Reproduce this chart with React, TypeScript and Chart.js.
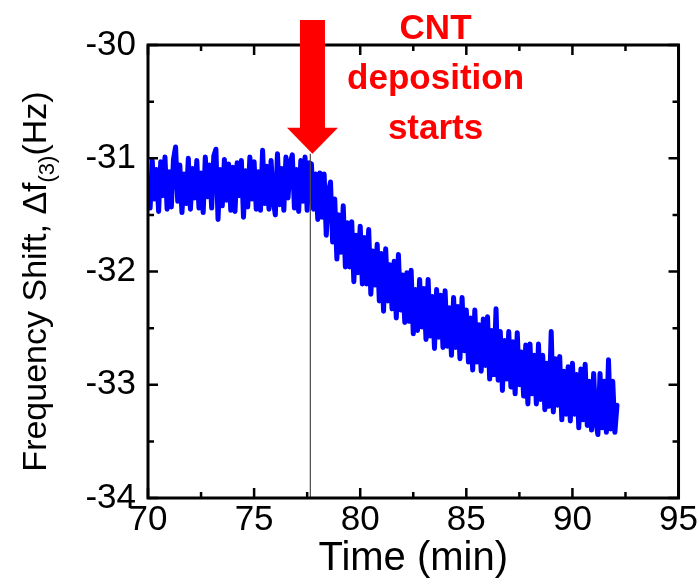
import React, { useEffect, useRef } from 'react';
import { Chart, registerables } from 'chart.js';

Chart.register(...registerables);

// ---- data ----
const timeStartMin = 70.0;
const timeStepMin = 0.1;

// 70.0 .. 77.6 min (before deposition)
const freqBefore = [
  -31.22, -31.44, -31.02, -31.36, -31.10, -31.47, -31.03, -31.33, -30.99, -31.45,
  -31.12, -31.43, -31.01, -30.90, -31.38, -31.06, -31.48, -31.14, -31.40, -31.00,
  -31.45, -31.09, -31.35, -31.02, -31.44, -31.13, -31.48, -30.99, -31.34, -31.06,
  -31.44, -30.98, -30.92, -31.54, -31.10, -31.42, -31.01, -31.37, -31.05, -31.46,
  -31.08, -31.47, -31.04, -31.33, -31.02, -31.52, -31.11, -31.43, -30.99, -31.36,
  -31.03, -31.45, -31.12, -31.46, -30.93, -31.40, -31.07, -31.45, -31.02, -31.37,
  -31.50, -30.96, -31.41, -31.09, -31.46, -30.99, -31.35, -31.04, -30.97, -31.44,
  -31.10, -31.47, -31.02, -31.38, -30.99, -31.46, -31.04,
];

// 77.7 .. 92.1 min (after deposition starts)
const freqAfter = [
  -31.05, -31.45, -31.14, -31.54, -31.13, -31.52, -31.14, -31.68, -31.30, -31.21,
  -31.74, -31.36, -31.89, -31.50, -31.83, -31.42, -31.96, -31.57, -31.96, -31.56,
  -32.09, -31.68, -32.01, -31.60, -32.11, -31.70, -32.11, -31.63, -32.20, -31.82,
  -32.12, -31.76, -32.26, -31.84, -32.35, -31.80, -32.26, -31.94, -32.33, -31.91,
  -32.41, -31.85, -32.34, -32.03, -32.45, -32.01, -32.44, -31.99, -32.55, -32.16,
  -32.52, -32.07, -32.49, -32.15, -32.60, -32.07, -32.57, -32.22, -32.68, -32.16,
  -32.58, -32.21, -32.67, -32.17, -32.66, -32.32, -32.74, -32.23, -32.67, -32.31,
  -32.77, -32.23, -32.70, -32.34, -32.80, -32.41, -32.87, -32.34, -32.80, -32.47,
  -32.88, -32.42, -32.83, -32.40, -32.95, -32.52, -32.91, -32.33, -32.96, -32.53,
  -33.05, -32.61, -32.95, -32.53, -33.02, -32.62, -33.08, -32.54, -33.00, -32.71,
  -33.10, -32.65, -33.17, -32.64, -33.08, -32.74, -33.17, -32.64, -33.13, -32.74,
  -33.22, -32.81, -33.19, -32.53, -33.24, -32.77, -33.18, -32.75, -33.31, -32.88,
  -33.26, -32.84, -33.32, -32.81, -33.26, -32.91, -33.38, -32.86, -33.31, -32.82,
  -33.36, -32.97, -33.40, -32.90, -33.32, -33.44, -32.90, -33.38, -32.97, -33.42,
  -32.78, -33.39, -32.97, -33.42, -33.18,
];

const frequencyShift = [...freqBefore, ...freqAfter];

const xMajorTicks = [70, 75, 80, 85, 90, 95];
const xMinorTicks = [72.5, 77.5, 82.5, 87.5, 92.5];
const yMajorTicks = [-34, -33, -32, -31, -30];
const yMinorTicks = [-33.5, -32.5, -31.5, -30.5];

const xMin = 70;
const xMax = 95;
const yMin = -34;
const yMax = -30;

const depositionTime = 77.65;
const arrowTime = 77.75;
const arrowTopValue = -29.78;
const arrowHeadBaseValue = -30.73;
const arrowTipValue = -30.96;

const noteLines = ['CNT', 'deposition', 'starts'];
const noteTime = 83.55;
const noteBaselineValues = [-29.95, -30.39, -30.83];

const xTitle = 'Time (min)';
const yTitleMain = 'Frequency Shift, \u0394f';
const yTitleSub = '(3)';
const yTitleEnd = '(Hz)';

const FONT = "'Liberation Sans', Arial, Helvetica, sans-serif";

const overlayPlugin = {
  id: 'overlay',
  afterDatasetsDraw(chart: any) {
    const { ctx, chartArea: a, scales } = chart;
    const xs = scales.x;
    const ys = scales.y;
    ctx.save();

    // vertical marker line
    const lx = xs.getPixelForValue(depositionTime);
    ctx.strokeStyle = '#4a4a4a';
    ctx.lineWidth = 1.2;
    ctx.beginPath();
    ctx.moveTo(lx, ys.getPixelForValue(arrowTipValue));
    ctx.lineTo(lx, a.bottom);
    ctx.stroke();

    // frame
    ctx.strokeStyle = '#000';
    ctx.lineWidth = 3;
    ctx.strokeRect(a.left, a.top, a.right - a.left, a.bottom - a.top);

    // inward ticks
    ctx.lineWidth = 2.5;
    const major = 10;
    const minor = 6;
    const vTick = (v: number, len: number) => {
      const p = xs.getPixelForValue(v);
      ctx.beginPath();
      ctx.moveTo(p, a.bottom);
      ctx.lineTo(p, a.bottom - len);
      ctx.moveTo(p, a.top);
      ctx.lineTo(p, a.top + len);
      ctx.stroke();
    };
    const hTick = (v: number, len: number) => {
      const p = ys.getPixelForValue(v);
      ctx.beginPath();
      ctx.moveTo(a.left, p);
      ctx.lineTo(a.left + len, p);
      ctx.moveTo(a.right, p);
      ctx.lineTo(a.right - len, p);
      ctx.stroke();
    };
    xMajorTicks.forEach((v) => vTick(v, major));
    xMinorTicks.forEach((v) => vTick(v, minor));
    yMajorTicks.forEach((v) => hTick(v, major));
    yMinorTicks.forEach((v) => hTick(v, minor));

    // arrow
    const ax = xs.getPixelForValue(arrowTime);
    const aTop = ys.getPixelForValue(arrowTopValue);
    const aBase = ys.getPixelForValue(arrowHeadBaseValue);
    const aTip = ys.getPixelForValue(arrowTipValue);
    const shaftHalf = 12.5;
    const headHalf = 25.5;
    ctx.fillStyle = '#ff0000';
    ctx.beginPath();
    ctx.moveTo(ax - shaftHalf, aTop);
    ctx.lineTo(ax + shaftHalf, aTop);
    ctx.lineTo(ax + shaftHalf, aBase);
    ctx.lineTo(ax + headHalf, aBase);
    ctx.lineTo(ax, aTip);
    ctx.lineTo(ax - headHalf, aBase);
    ctx.lineTo(ax - shaftHalf, aBase);
    ctx.closePath();
    ctx.fill();

    // annotation text
    ctx.font = `bold 35px ${FONT}`;
    ctx.textAlign = 'center';
    ctx.textBaseline = 'alphabetic';
    const tx = xs.getPixelForValue(noteTime);
    noteLines.forEach((line, i) => {
      ctx.fillText(line, tx, ys.getPixelForValue(noteBaselineValues[i]));
    });

    // y-axis title with subscript
    const mainSize = 34;
    const subSize = 22;
    ctx.fillStyle = '#000';
    ctx.textAlign = 'left';
    ctx.textBaseline = 'alphabetic';
    ctx.font = `${mainSize}px ${FONT}`;
    const w1 = ctx.measureText(yTitleMain).width;
    const w3 = ctx.measureText(yTitleEnd).width;
    ctx.font = `${subSize}px ${FONT}`;
    const w2 = ctx.measureText(yTitleSub).width;
    const total = w1 + w2 + w3;
    const centerY = (a.top + a.bottom) / 2 + 10;
    const baseX = 46;
    ctx.translate(baseX, centerY);
    ctx.rotate(-Math.PI / 2);
    let cx = -total / 2;
    ctx.font = `${mainSize}px ${FONT}`;
    ctx.fillText(yTitleMain, cx, 0);
    cx += w1;
    ctx.font = `${subSize}px ${FONT}`;
    ctx.fillText(yTitleSub, cx, 8);
    cx += w2;
    ctx.font = `${mainSize}px ${FONT}`;
    ctx.fillText(yTitleEnd, cx, 0);

    ctx.restore();
  },
};

export default function App() {
  const canvasRef = useRef<HTMLCanvasElement | null>(null);

  useEffect(() => {
    if (!canvasRef.current) return;
    const points = frequencyShift.map((v, i) => ({
      x: timeStartMin + i * timeStepMin,
      y: v,
    }));
    const chart = new Chart(canvasRef.current, {
      type: 'line',
      data: {
        datasets: [
          {
            data: points,
            borderColor: '#0000ff',
            backgroundColor: '#0000ff',
            borderWidth: 5,
            borderJoinStyle: 'round',
            borderCapStyle: 'round',
            pointRadius: 0,
            tension: 0,
            fill: false,
          },
        ],
      },
      options: {
        responsive: true,
        maintainAspectRatio: false,
        animation: false,
        events: [],
        layout: { padding: { top: 45, right: 19, left: 0, bottom: 0 } },
        plugins: {
          legend: { display: false },
          tooltip: { enabled: false },
        },
        scales: {
          x: {
            type: 'linear',
            min: xMin,
            max: xMax,
            afterBuildTicks: (s: any) => {
              s.ticks = xMajorTicks.map((v) => ({ value: v }));
            },
            afterFit: (s: any) => {
              s.height = 83;
            },
            ticks: {
              font: { family: FONT, size: 35 },
              color: '#000',
              padding: 1,
              maxRotation: 0,
              autoSkip: false,
            },
            grid: { display: false, drawTicks: false },
            border: { display: false },
            title: {
              display: true,
              text: xTitle,
              color: '#000',
              font: { family: FONT, size: 40 },
              padding: { top: 0, bottom: -2 },
            },
          },
          y: {
            type: 'linear',
            min: yMin,
            max: yMax,
            afterBuildTicks: (s: any) => {
              s.ticks = yMajorTicks.map((v) => ({ value: v }));
            },
            afterFit: (s: any) => {
              s.width = 148;
            },
            ticks: {
              font: { family: FONT, size: 35 },
              color: '#000',
              padding: 12,
            },
            grid: { display: false, drawTicks: false },
            border: { display: false },
          },
        },
      },
      plugins: [overlayPlugin],
    } as any);
    return () => chart.destroy();
  }, []);

  return (
    <div style={{ position: 'absolute', left: 0, top: 0, width: 699, height: 581, background: '#fff' }}>
      <canvas ref={canvasRef} />
    </div>
  );
}
